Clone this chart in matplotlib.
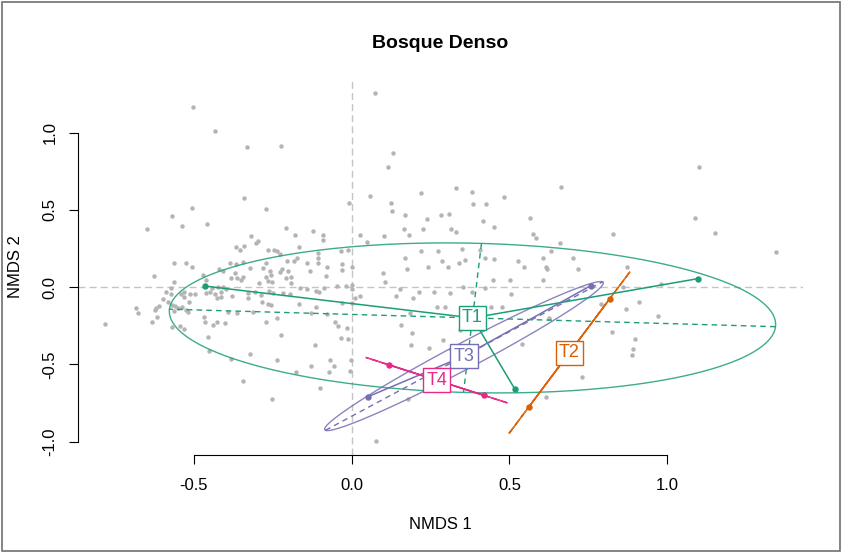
import matplotlib
matplotlib.use('Agg')
import matplotlib.pyplot as plt
import numpy as np
from matplotlib.patches import Rectangle

plt.rcParams['font.family'] = ['Liberation Sans', 'DejaVu Sans']

# background sites (NMDS 1, NMDS 2)
bg_sites = np.array([
    (-0.503, 1.167), (-0.432, 1.012), (-0.333, 0.906), (-0.223, 0.911), (-0.340, 0.578),
    (-0.507, 0.513), (-0.570, 0.461), (-0.270, 0.503), (-0.648, 0.377), (-0.537, 0.393),
    (-0.459, 0.406), (-0.009, 0.544), (-0.209, 0.384), (-0.121, 0.364), (-0.179, 0.339),
    (-0.090, 0.337), (-0.090, 0.306), (-0.319, 0.332), (-0.298, 0.298), (-0.304, 0.283),
    (-0.365, 0.259), (-0.340, 0.267), (-0.355, 0.238), (-0.166, 0.257), (-0.265, 0.241),
    (-0.247, 0.238), (-0.238, 0.231), (-0.226, 0.214), (-0.108, 0.222), (-0.034, 0.231),
    (-0.013, 0.241), (-0.564, 0.157), (-0.526, 0.153), (-0.384, 0.155), (-0.367, 0.151),
    (-0.345, 0.162), (-0.270, 0.153), (-0.205, 0.168), (-0.184, 0.170), (-0.172, 0.190),
    (-0.141, 0.157), (-0.108, 0.188), (-0.108, 0.155), (-0.031, 0.147),
    (0.075, 1.258), (0.130, 0.869), (0.114, 0.779), (0.058, 0.589), (0.124, 0.542),
    (0.129, 0.490), (0.221, 0.610), (0.330, 0.641), (0.381, 0.615), (0.386, 0.537),
    (0.426, 0.537), (0.484, 0.583), (0.664, 0.647), (0.168, 0.464), (0.239, 0.438),
    (0.283, 0.466), (0.309, 0.472), (0.165, 0.375), (0.183, 0.339), (0.225, 0.373),
    (0.315, 0.373), (0.330, 0.356), (0.415, 0.425), (0.450, 0.390), (0.565, 0.449),
    (0.575, 0.345), (0.584, 0.317), (0.659, 0.285), (0.026, 0.335), (0.050, 0.293),
    (0.104, 0.328), (0.169, 0.188), (0.221, 0.231), (0.273, 0.233), (0.286, 0.166),
    (0.350, 0.244), (0.339, 0.157), (0.359, 0.173), (0.407, 0.238), (0.422, 0.186),
    (0.450, 0.181), (0.527, 0.170), (0.605, 0.190), (0.633, 0.231), (0.701, 0.190),
    (1.100, 0.775), (1.088, 0.445), (1.151, 0.351), (0.828, 0.341), (1.344, 0.228),
    (-0.627, 0.069), (-0.564, 0.030), (-0.470, 0.078), (-0.462, 0.047), (-0.507, 0.131),
    (-0.421, 0.117), (-0.406, 0.104), (-0.383, 0.056), (-0.371, 0.088), (-0.362, 0.060),
    (-0.349, 0.047), (-0.343, 0.065), (-0.323, 0.121), (-0.292, 0.024), (-0.281, 0.121),
    (-0.258, 0.104), (-0.272, 0.065), (-0.255, 0.078), (-0.265, 0.039), (-0.251, 0.034),
    (-0.227, 0.095), (-0.221, 0.117), (-0.208, 0.056), (-0.201, 0.104), (-0.193, 0.067),
    (-0.191, 0.024), (-0.131, 0.104), (-0.079, 0.131), (-0.081, 0.073), (-0.030, 0.110),
    (0.000, 0.131), (-0.571, -0.004), (-0.443, -0.009), (-0.424, 0.000), (-0.408, -0.002),
    (-0.413, -0.030), (-0.399, -0.013), (-0.460, -0.039), (-0.448, -0.035), (-0.432, -0.048),
    (-0.413, -0.063), (-0.425, -0.073), (-0.588, -0.035), (-0.572, -0.045), (-0.542, -0.043),
    (-0.532, -0.035), (-0.513, -0.045), (-0.496, -0.043), (-0.530, -0.067), (-0.514, -0.095),
    (-0.599, -0.078), (-0.611, -0.125), (-0.621, -0.134), (-0.623, -0.149), (-0.684, -0.134),
    (-0.678, -0.168), (-0.583, -0.095), (-0.570, -0.117), (-0.559, -0.125), (-0.551, -0.138),
    (-0.538, -0.129), (-0.525, -0.147), (-0.519, -0.160), (-0.564, -0.157), (-0.378, -0.058),
    (-0.329, -0.041), (-0.305, -0.030), (-0.286, -0.052), (-0.263, -0.024), (-0.250, -0.041),
    (-0.217, -0.041), (-0.196, -0.048), (-0.163, -0.009), (-0.142, -0.015), (-0.113, -0.026),
    (-0.104, -0.035), (-0.086, -0.009), (-0.045, 0.008), (-0.017, 0.008), (0.001, -0.013),
    (-0.328, -0.073), (-0.283, -0.095), (-0.265, -0.108), (-0.255, -0.117), (-0.168, -0.110),
    (-0.114, -0.127), (-0.030, -0.102), (0.001, -0.102), (-0.392, -0.160), (-0.362, -0.170),
    (-0.311, -0.160), (-0.617, -0.192), (-0.633, -0.229), (-0.469, -0.196), (-0.465, -0.229),
    (-0.439, -0.246), (-0.426, -0.224), (-0.400, -0.235), (-0.272, -0.229), (-0.237, -0.198),
    (-0.128, -0.166), (-0.078, -0.175), (-0.053, -0.229), (-0.043, -0.250), (-0.014, -0.268),
    (-0.543, -0.250), (-0.532, -0.274), (-0.569, -0.257), (-0.782, -0.242), (-0.456, -0.326),
    (-0.225, -0.311), (-0.117, -0.378), (-0.033, -0.330), (-0.013, -0.337), (-0.453, -0.412),
    (-0.323, -0.436), (-0.382, -0.466), (-0.238, -0.475), (-0.003, -0.470), (-0.069, -0.475),
    (-0.056, -0.511), (-0.130, -0.513), (-0.175, -0.552), (-0.073, -0.552), (-0.005, -0.542),
    (-0.343, -0.608), (-0.099, -0.656), (-0.252, -0.723),
    (0.177, 0.117), (0.242, 0.131), (0.305, 0.131), (0.099, 0.088), (0.105, 0.034),
    (0.152, -0.013), (0.002, 0.013), (0.142, -0.056), (0.194, -0.073), (0.214, -0.035),
    (0.260, -0.035), (0.311, -0.041), (0.353, -0.002), (0.383, -0.035), (0.422, -0.009),
    (0.448, 0.047), (0.501, 0.045), (0.506, -0.048), (0.546, 0.131), (0.607, 0.045),
    (0.615, 0.131), (0.619, 0.117), (0.025, -0.058), (0.010, -0.073), (0.269, -0.132),
    (0.295, -0.132), (0.184, -0.170), (0.158, -0.246), (0.192, -0.296), (0.189, -0.375),
    (0.245, -0.393), (0.288, -0.343), (0.343, -0.278), (0.443, -0.127), (0.475, -0.127),
    (0.541, -0.371), (0.626, -0.198), (0.180, -0.725), (0.615, -0.710), (0.078, -0.997),
    (0.716, 0.117), (0.874, 0.131), (0.861, 0.002), (0.980, 0.019), (0.790, -0.110),
    (0.870, -0.140), (0.912, -0.097), (0.971, -0.186), (0.826, -0.289), (0.899, -0.335),
    (0.892, -0.399), (0.888, -0.440), (0.730, -0.585),
])

# treatment sites
group_names = ['T1', 'T2', 'T3', 'T4']
group_colors = ['#1B9E77', '#D95F02', '#7570B3', '#E7298A']
group_sites = {
    'T1': [(-0.465, 0.006), (0.517, -0.660), (1.097, 0.054)],
    'T2': [(0.562, -0.775), (0.818, -0.076)],
    'T3': [(0.052, -0.710), (0.758, 0.009), (0.258, -0.640)],
    'T4': [(0.120, -0.505), (0.419, -0.701)],
}
ellipse_scale = 1.49

fig = plt.figure(figsize=(8.43, 5.53), dpi=100)
ax = fig.add_axes([78 / 843, 1 - 455 / 553, (802.6 - 78) / 843, (455 - 78.7) / 553])

all_pts = np.vstack([bg_sites] + [np.array(v) for v in group_sites.values()])
lo, hi = all_pts.min(axis=0), all_pts.max(axis=0)
pad = 0.04 * (hi - lo)
ax.set_xlim(lo[0] - pad[0], hi[0] + pad[0])
ax.set_ylim(lo[1] - pad[1], hi[1] + pad[1])

ax.plot(bg_sites[:, 0], bg_sites[:, 1], 'o', ms=3.2, color='#b4b4b4', mec='none', zorder=1)
ax.axhline(0, color='#c4c4c4', lw=1, dashes=(5, 3), zorder=0.5)
ax.axvline(0, color='#c4c4c4', lw=1, dashes=(5, 3), zorder=0.5)

t = np.linspace(0, 2 * np.pi, 300)
for name, col in zip(group_names, group_colors):
    pts = np.array(group_sites[name])
    cen = pts.mean(axis=0)
    cov = np.cov(pts.T, bias=True)
    vals, vecs = np.linalg.eigh(cov)
    vals = np.clip(vals, 0, None)
    r = ellipse_scale * np.sqrt(vals)
    ell = cen[:, None] + vecs[:, 1:2] * r[1] * np.cos(t) + vecs[:, 0:1] * r[0] * np.sin(t)
    ax.plot(ell[0], ell[1], color=col, lw=1, alpha=0.85, zorder=2)
    for i in (0, 1):
        a = cen - vecs[:, i] * r[i]
        b = cen + vecs[:, i] * r[i]
        ax.plot([a[0], b[0]], [a[1], b[1]], color=col, lw=1, dashes=(4, 3), zorder=2)
    for p in pts:
        ax.plot([cen[0], p[0]], [cen[1], p[1]], color=col, lw=1.1, zorder=3)
    ax.plot(pts[:, 0], pts[:, 1], 'o', ms=4.6, color=col, mec='none', zorder=4)
    ax.text(cen[0], cen[1], name, color=col, fontsize=13, ha='center', va='center', zorder=5,
            bbox=dict(boxstyle='square,pad=0.18', fc='white', ec=col, lw=1))

for s in ('top', 'right'):
    ax.spines[s].set_visible(False)
ax.spines['left'].set_bounds(-1.0, 1.0)
ax.spines['bottom'].set_bounds(-0.5, 1.0)
ax.set_xticks([-0.5, 0.0, 0.5, 1.0])
ax.set_yticks([-1.0, -0.5, 0.0, 0.5, 1.0])
ax.set_xticklabels(['-0.5', '0.0', '0.5', '1.0'])
ax.set_yticklabels(['-1.0', '-0.5', '0.0', '0.5', '1.0'], rotation=90, va='center')
ax.tick_params(length=6.8, width=0.8, labelsize=12)
ax.tick_params(axis='x', pad=10)
ax.tick_params(axis='y', pad=8)
for s in ('left', 'bottom'):
    ax.spines[s].set_linewidth(0.8)
ax.set_xlabel('NMDS 1', fontsize=12, labelpad=17)
ax.set_ylabel('NMDS 2', fontsize=12, labelpad=14)
ax.set_title('Bosque Denso', fontsize=14, fontweight='bold', pad=22)

fig.add_artist(Rectangle((0.002, 0.003), 0.995, 0.994, transform=fig.transFigure,
                         fill=False, ec='#707070', lw=1.2))

fig.savefig('out.png', dpi=100)
